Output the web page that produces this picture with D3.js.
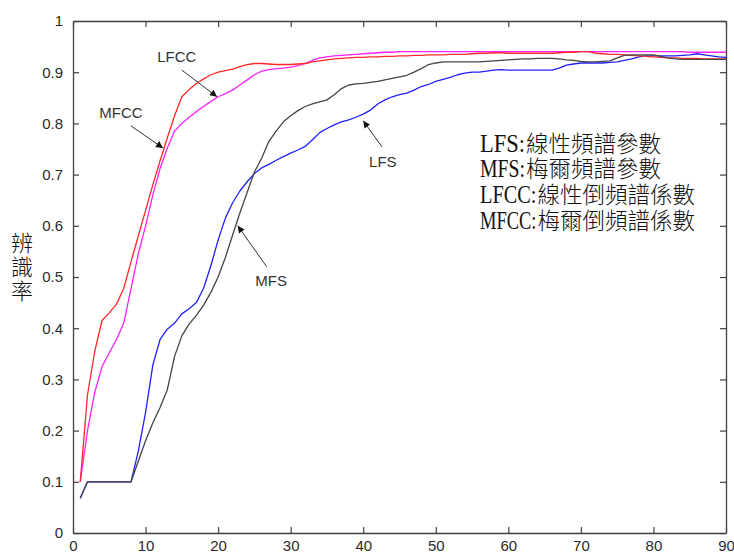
<!DOCTYPE html>
<html>
<head>
<meta charset="utf-8">
<script src="https://cdn.jsdelivr.net/npm/d3@7/dist/d3.min.js"></script>
<style>
  html, body { margin: 0; padding: 0; background: #fff; }
  svg { display: block; }
</style>
</head>
<body>
<svg id="chart" width="734" height="554"></svg>
<script>
// Frame index (1..90) on the x axis
const frames = d3.range(1, 91);

// Recognition rate per feature set
const mfccRate = [
  0.100, 0.270, 0.355, 0.415, 0.430, 0.447, 0.478, 0.530, 0.580, 0.630,
  0.680, 0.727, 0.772, 0.815, 0.852, 0.866, 0.878, 0.887, 0.895, 0.900,
  0.903, 0.906, 0.911, 0.915, 0.917, 0.917, 0.916, 0.915, 0.915, 0.915,
  0.916, 0.917, 0.920, 0.922, 0.924, 0.926, 0.927, 0.928, 0.929, 0.929,
  0.930, 0.930, 0.931, 0.931, 0.932, 0.932, 0.933, 0.933, 0.934, 0.934,
  0.934, 0.935, 0.935, 0.935, 0.936, 0.937, 0.937, 0.938, 0.938, 0.937,
  0.937, 0.937, 0.937, 0.937, 0.937, 0.937, 0.938, 0.939, 0.939, 0.940,
  0.940, 0.937, 0.936, 0.935, 0.935, 0.934, 0.933, 0.932, 0.931, 0.930,
  0.929, 0.928, 0.928, 0.927, 0.927, 0.927, 0.926, 0.926, 0.926, 0.926
];
const lfccRate = [
  0.100, 0.200, 0.275, 0.325, 0.352, 0.378, 0.410, 0.478, 0.545, 0.600,
  0.660, 0.712, 0.752, 0.785, 0.800, 0.812, 0.823, 0.833, 0.843, 0.852,
  0.858, 0.865, 0.875, 0.885, 0.895, 0.902, 0.905, 0.907, 0.908, 0.910,
  0.913, 0.917, 0.923, 0.928, 0.930, 0.932, 0.933, 0.934, 0.935, 0.936,
  0.937, 0.938, 0.939, 0.939, 0.940, 0.940, 0.940, 0.940, 0.940, 0.940,
  0.940, 0.940, 0.940, 0.940, 0.940, 0.940, 0.940, 0.940, 0.940, 0.940,
  0.940, 0.940, 0.940, 0.940, 0.940, 0.940, 0.940, 0.940, 0.940, 0.940,
  0.940, 0.940, 0.940, 0.940, 0.940, 0.940, 0.940, 0.940, 0.940, 0.940,
  0.940, 0.940, 0.940, 0.940, 0.939, 0.939, 0.939, 0.939, 0.939, 0.939
];
const lfsRate = [
  0.068, 0.100, 0.100, 0.100, 0.100, 0.100, 0.100, 0.100, 0.160, 0.235,
  0.328, 0.378, 0.398, 0.410, 0.428, 0.438, 0.450, 0.478, 0.522, 0.572,
  0.615, 0.645, 0.668, 0.686, 0.702, 0.713, 0.720, 0.728, 0.735, 0.742,
  0.748, 0.755, 0.768, 0.782, 0.790, 0.797, 0.803, 0.807, 0.812, 0.818,
  0.826, 0.838, 0.846, 0.852, 0.856, 0.859, 0.865, 0.872, 0.876, 0.882,
  0.886, 0.890, 0.895, 0.898, 0.900, 0.900, 0.902, 0.904, 0.905, 0.904,
  0.904, 0.904, 0.904, 0.904, 0.904, 0.904, 0.908, 0.914, 0.916, 0.918,
  0.918, 0.918, 0.918, 0.919, 0.920, 0.923, 0.926, 0.930, 0.932, 0.932,
  0.932, 0.932, 0.932, 0.933, 0.934, 0.936, 0.934, 0.932, 0.930, 0.929
];
const mfsRate = [
  0.068, 0.100, 0.100, 0.100, 0.100, 0.100, 0.100, 0.100, 0.140, 0.180,
  0.215, 0.245, 0.280, 0.345, 0.385, 0.408, 0.425, 0.445, 0.470, 0.500,
  0.538, 0.582, 0.625, 0.665, 0.705, 0.732, 0.765, 0.785, 0.803, 0.815,
  0.825, 0.833, 0.838, 0.842, 0.846, 0.856, 0.868, 0.875, 0.877, 0.878,
  0.880, 0.882, 0.885, 0.888, 0.891, 0.894, 0.900, 0.907, 0.915, 0.918,
  0.920, 0.920, 0.920, 0.920, 0.920, 0.920, 0.921, 0.922, 0.923, 0.924,
  0.925, 0.926, 0.926, 0.927, 0.927, 0.927, 0.926, 0.924, 0.923, 0.921,
  0.920, 0.920, 0.921, 0.922, 0.928, 0.933, 0.934, 0.934, 0.934, 0.934,
  0.931, 0.928, 0.926, 0.925, 0.925, 0.925, 0.925, 0.925, 0.925, 0.925
];

// Axis ticks
const xTicks = [0, 10, 20, 30, 40, 50, 60, 70, 80, 90];
const xTickLabels = ["0", "10", "20", "30", "40", "50", "60", "70", "80", "90"];
const yTicks = [0, 0.1, 0.2, 0.3, 0.4, 0.5, 0.6, 0.7, 0.8, 0.9, 1];
const yTickLabels = ["0", "0.1", "0.2", "0.3", "0.4", "0.5", "0.6", "0.7", "0.8", "0.9", "1"];

// Axis title and legend text
const yTitle = "辨識率";
const legendCodes = ["LFS", "MFS", "LFCC", "MFCC"];
const legendNames = ["線性頻譜參數", "梅爾頻譜參數", "線性倒頻譜係數", "梅爾倒頻譜係數"];

// Arrow call-outs: label, label centre, arrow tail, arrow tip (data units)
const callouts = [
  { text: "LFCC", label: [14.3, 0.930], tail: [15.0, 0.904], tip: [19.85, 0.852] },
  { text: "MFCC", label: [6.6, 0.822],  tail: [8.0, 0.795],  tip: [12.4, 0.752] },
  { text: "LFS",  label: [42.7, 0.725], tail: [42.6, 0.754], tip: [40.0, 0.805] },
  { text: "MFS",  label: [27.3, 0.494], tail: [26.7, 0.520], tip: [22.7, 0.600] }
];

const series = [
  { values: lfsRate,  color: "#2020ff" },
  { values: lfccRate, color: "#ff20ff" },
  { values: mfccRate, color: "#ff2828" },
  { values: mfsRate,  color: "#454545" }
];

const svg = d3.select("#chart");
const x = d3.scaleLinear().domain([0, 90]).range([73, 726]);
const y = d3.scaleLinear().domain([0, 1]).range([533, 21]);

const tickFont = "'Liberation Sans', Arial, sans-serif";
const cjkFont = "'Noto Sans CJK TC', 'Noto Sans CJK SC', sans-serif";
const axisColor = "#404040";

function styleAxis(g) {
  g.selectAll(".domain").attr("stroke", axisColor).attr("stroke-width", 1.3);
  g.selectAll(".tick line").attr("stroke", axisColor).attr("stroke-width", 1.2);
  g.selectAll(".tick text").attr("fill", "#2a2a2a")
    .style("font-family", tickFont).style("font-size", "15px");
}

// Box axes with inward ticks
svg.append("g").attr("transform", `translate(0,${y(0)})`)
  .call(d3.axisBottom(x).tickValues(xTicks).tickFormat((d, i) => xTickLabels[i])
    .tickSizeInner(-6).tickSizeOuter(0).tickPadding(7))
  .call(styleAxis);
svg.append("g").attr("transform", `translate(0,${y(1)})`)
  .call(d3.axisTop(x).tickValues(xTicks).tickFormat("")
    .tickSizeInner(-6).tickSizeOuter(0))
  .call(styleAxis);
svg.append("g").attr("transform", `translate(${x(0)},0)`)
  .call(d3.axisLeft(y).tickValues(yTicks).tickFormat((d, i) => yTickLabels[i])
    .tickSizeInner(-6).tickSizeOuter(0).tickPadding(10))
  .call(styleAxis);
svg.append("g").attr("transform", `translate(${x(90)},0)`)
  .call(d3.axisRight(y).tickValues(yTicks).tickFormat("")
    .tickSizeInner(-6).tickSizeOuter(0))
  .call(styleAxis);

// Recognition-rate curves
const line = d3.line().x((d, i) => x(frames[i])).y(d => y(d));
svg.append("g").selectAll("path").data(series).join("path")
  .attr("d", s => line(s.values))
  .attr("fill", "none")
  .attr("stroke", s => s.color)
  .attr("stroke-width", 1.3)
  .attr("stroke-linejoin", "round");

// Arrow call-outs
const defs = svg.append("defs");
defs.append("marker")
  .attr("id", "arrowhead")
  .attr("viewBox", "0 0 10 10")
  .attr("refX", 10).attr("refY", 5)
  .attr("markerWidth", 9).attr("markerHeight", 7)
  .attr("markerUnits", "userSpaceOnUse")
  .attr("orient", "auto")
  .append("path").attr("d", "M0,0 L10,5 L0,10 Z").attr("fill", "#111");

const co = svg.append("g");
co.selectAll("line").data(callouts).join("line")
  .attr("x1", d => x(d.tail[0])).attr("y1", d => y(d.tail[1]))
  .attr("x2", d => x(d.tip[0])).attr("y2", d => y(d.tip[1]))
  .attr("stroke", "#333").attr("stroke-width", 1)
  .attr("marker-end", "url(#arrowhead)");
co.selectAll("text").data(callouts).join("text")
  .attr("x", d => x(d.label[0])).attr("y", d => y(d.label[1]))
  .attr("text-anchor", "middle").attr("dominant-baseline", "central")
  .attr("fill", "#333")
  .style("font-family", tickFont).style("font-size", "15px")
  .text(d => d.text);

// Vertical y-axis title, set top to bottom
svg.append("text")
  .attr("x", 22).attr("y", 268)
  .attr("text-anchor", "middle")
  .style("writing-mode", "vertical-rl")
  .style("letter-spacing", "2px")
  .attr("fill", "#111")
  .style("font-family", cjkFont).style("font-weight", 300)
  .style("font-size", "22px")
  .text(yTitle);

// Legend text block (one text element, four lines):
// narrow half-width codes followed by full-width names
const legendX = 480, legendBase = 151.5, legendStep = 25.9, halfW = 11.5;
const legendText = svg.append("text").attr("fill", "#111");
legendCodes.forEach((code, i) => {
  const label = code + ":";
  const by = legendBase + i * legendStep;
  legendText.append("tspan")
    .attr("x", legendX).attr("y", by)
    .attr("textLength", label.length * halfW - 1)
    .attr("lengthAdjust", "spacingAndGlyphs")
    .style("font-family", "'Liberation Serif', 'Times New Roman', serif")
    .style("font-size", "25px")
    .text(label);
  legendText.append("tspan")
    .attr("x", legendX + label.length * halfW).attr("y", by)
    .style("font-family", cjkFont).style("font-weight", 300)
    .style("font-size", "22.5px")
    .text(legendNames[i]);
});
</script>
</body>
</html>
